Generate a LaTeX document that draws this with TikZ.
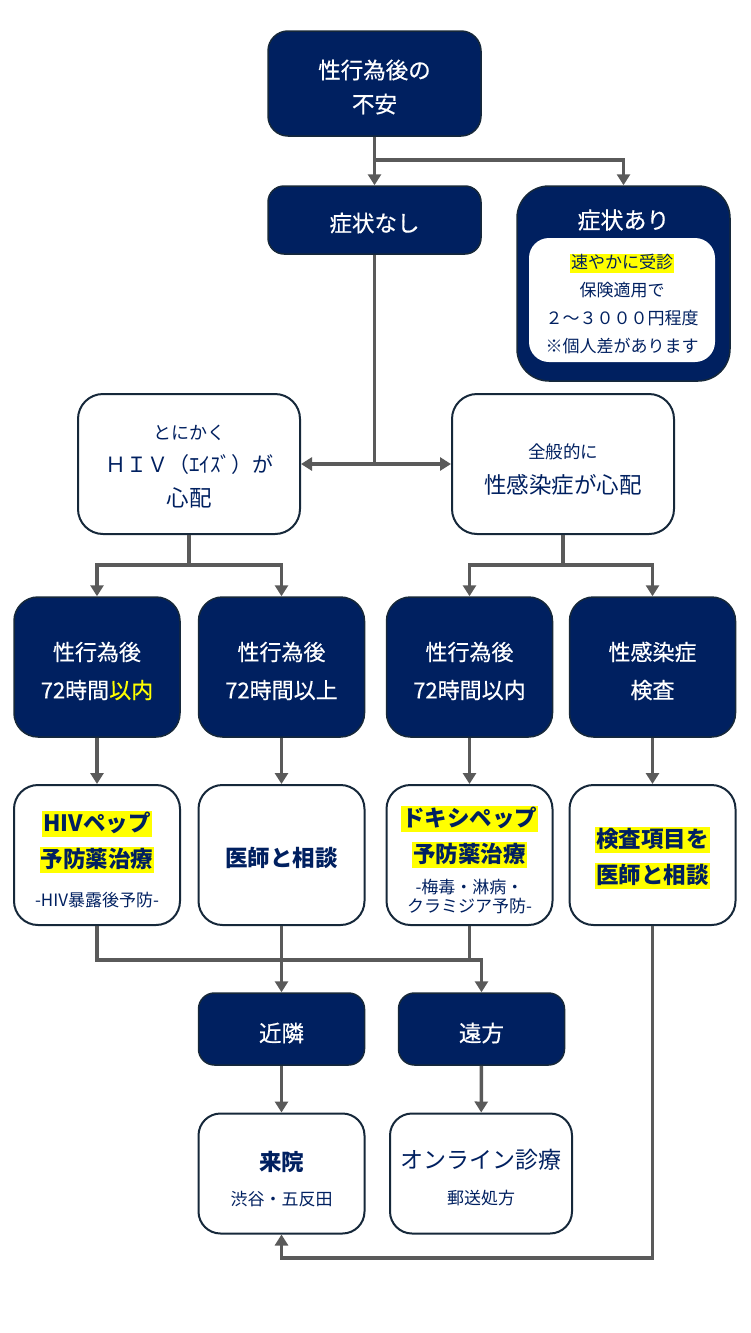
\documentclass[tikz,border=0pt]{standalone}
\usepackage{fontspec}
\setmainfont{Noto Sans CJK JP}
\newfontfamily\medfont[FakeBold=0.5]{Noto Sans CJK JP}
\usetikzlibrary{arrows.meta}
\definecolor{navy}{RGB}{0,32,96}
\definecolor{bord}{RGB}{22,40,58}
\definecolor{linec}{RGB}{90,90,90}
\definecolor{hly}{RGB}{255,255,0}
\newcommand\hl[1]{{\setlength{\fboxsep}{0pt}\colorbox{hly}{\rule[-0.24em]{0pt}{1.14em}\hspace{1pt}#1\hspace{1pt}}}}
\newcommand\fs[2]{\fontsize{#1}{#2}\selectfont}
\begin{document}
\begin{tikzpicture}[x=1pt,y=-1pt,
 darkbox/.style={fill=navy, draw=bord, line width=1.5pt, inner sep=0pt},
 lightbox/.style={fill=white, draw=bord, line width=2pt, inner sep=0pt},
 wtxt/.style={text=white, align=center, inner sep=0pt},
 ntxt/.style={text=navy, align=center, inner sep=0pt},
 conn/.style={draw=linec, line width=3.5pt},
 arr/.style={conn, -{Triangle[width=13pt,length=11pt]}},
 colbox/.style={minimum width=166pt, minimum height=140pt, rounded corners=24pt},
 ]
\useasboundingbox (0,0) rectangle (750,1333);

% boxes
\node[darkbox, minimum width=213pt, minimum height=105pt, rounded corners=20pt] (top) at (374.5,83.5) {};
\node[darkbox, minimum width=213pt, minimum height=68pt, rounded corners=16pt] (nos) at (374.5,220) {};
\node[darkbox, minimum width=213pt, minimum height=195pt, rounded corners=32pt] (sym) at (623.5,283.5) {};
\node[fill=white, draw=none, minimum width=186pt, minimum height=124pt, rounded corners=20pt] (symi) at (622,300) {};

\node[lightbox, minimum width=222pt, minimum height=140pt, rounded corners=25pt] (hiv) at (189,464) {};
\node[lightbox, minimum width=222pt, minimum height=140pt, rounded corners=25pt] (gen) at (563,464) {};

\node[darkbox, colbox] (r3a) at (97,667) {};
\node[darkbox, colbox] (r3b) at (281.5,667) {};
\node[darkbox, colbox] (r3c) at (469.5,667) {};
\node[darkbox, colbox] (r3d) at (652.5,667) {};

\node[lightbox, colbox] (r4a) at (97,855) {};
\node[lightbox, colbox] (r4b) at (281.5,855) {};
\node[lightbox, colbox] (r4c) at (469.5,855) {};
\node[lightbox, colbox] (r4d) at (652.5,855) {};

\node[darkbox, minimum width=166pt, minimum height=72pt, rounded corners=16pt] (kin) at (281.5,1029) {};
\node[darkbox, minimum width=166pt, minimum height=72pt, rounded corners=16pt] (en) at (481.5,1029) {};

\node[lightbox, minimum width=166pt, minimum height=120pt, rounded corners=22pt] (rai) at (281.5,1173.5) {};
\node[lightbox, minimum width=182pt, minimum height=120pt, rounded corners=22pt] (onl) at (481,1173.5) {};

% texts
\node[wtxt, font=\medfont\fs{22.5}{34}] (top-t) at (374.5,87) {性行為後の\\不安};
\node[wtxt, font=\medfont\fs{22.5}{34}] (nos-t) at (374.5,223) {症状なし};
\node[wtxt, font=\medfont\fs{23}{30}] (sym-t) at (623.5,220) {症状あり};
\node[ntxt, font=\fs{17}{27.7}] (symi-t) at (622,303.5) {\hl{速やかに受診}\\保険適用で\\２～３０００円程度\\※個人差があります};

\node[ntxt, font=\fs{22.5}{33.5}] (hiv-t) at (189,466.5) {{\fs{18}{33.5}とにかく}\\{\fs{21}{33.5}ＨＩＶ（ｴｲｽﾞ）が}\\心配};
\node[ntxt, font=\fs{22.5}{35}] (gen-t) at (563,469.5) {{\fs{17.5}{35}全般的に}\\性感染症が心配};

\node[wtxt, font=\medfont\fs{22}{38}] (r3a-t) at (97,671) {性行為後\\72時間\textcolor{hly}{以内}};
\node[wtxt, font=\medfont\fs{22}{38}] (r3b-t) at (281.5,671) {性行為後\\72時間以上};
\node[wtxt, font=\medfont\fs{22}{38}] (r3c-t) at (469.5,671) {性行為後\\72時間以内};
\node[wtxt, font=\medfont\fs{22}{38}] (r3d-t) at (652.5,671) {性感染症\\検査};

\node[ntxt, font=\bfseries\fs{22.5}{36}] (r4a-t) at (97,859.5) {\hl{HIVペップ}\\\hl{予防薬治療}\\[3pt]{\mdseries\fs{17}{36}-HIV暴露後予防-}};
\node[ntxt, font=\bfseries\fs{22.5}{36}] (r4b-t) at (281.5,858) {医師と相談};
\node[ntxt, font=\bfseries\fs{22.5}{36}] (r4c-t) at (469.5,860) {\hl{ドキシペップ}\\\hl{予防薬治療}\\[-5pt]{\mdseries\fs{17}{36}-梅毒・淋病・}\\[-17pt]{\mdseries\fs{17}{36}クラミジア予防-}};
\node[ntxt, font=\bfseries\fs{22.5}{36}] (r4d-t) at (652.5,858) {\hl{検査項目を}\\\hl{医師と相談}};

\node[wtxt, font=\medfont\fs{22.5}{34}] (kin-t) at (281.5,1033) {近隣};
\node[wtxt, font=\medfont\fs{22.5}{34}] (en-t) at (481.5,1033) {遠方};

\node[ntxt, font=\fs{22.5}{35}] (rai-t) at (281.5,1179.5) {\textbf{来院}\\{\fs{17}{35}渋谷・五反田}};
\node[ntxt, font=\fs{23}{36}] (onl-t) at (481,1178) {オンライン診療\\{\fs{17}{36}郵送処方}};

% connectors
\coordinate (j1) at (374.5,160);
\draw[arr] (top.south) -- (nos.north);
\draw[arr] (j1) -| (sym.north);

\coordinate (j2) at (374.5,464);
\draw[conn] (nos.south) -- (j2);
\draw[arr] (j2) -- (hiv.east);
\draw[arr] (j2) -- (gen.west);

\coordinate (j3) at (189,565);
\draw[conn] (hiv.south) -- (j3);
\draw[arr] (j3) -| (r3a.north);
\draw[arr] (j3) -| (r3b.north);
\coordinate (j4) at (563,565);
\draw[conn] (gen.south) -- (j4);
\draw[arr] (j4) -| (r3c.north);
\draw[arr] (j4) -| (r3d.north);

\draw[arr] (r3a) -- (r4a);
\draw[arr] (r3b) -- (r4b);
\draw[arr] (r3c) -- (r4c);
\draw[arr] (r3d) -- (r4d);

\coordinate (j5) at (481.5,960);
\draw[arr] (r4a.south) |- (j5) -- (en.north);
\draw[arr] (r4b.south) -- (kin.north);
\draw[conn] (r4c.south) -- (r4c.south |- j5);

\draw[arr] (kin) -- (rai);
\draw[arr] (en) -- (onl);

\coordinate (j6) at (281.5,1258);
\draw[arr] (r4d.south) |- (j6) -- (rai.south);
\end{tikzpicture}
\end{document}
